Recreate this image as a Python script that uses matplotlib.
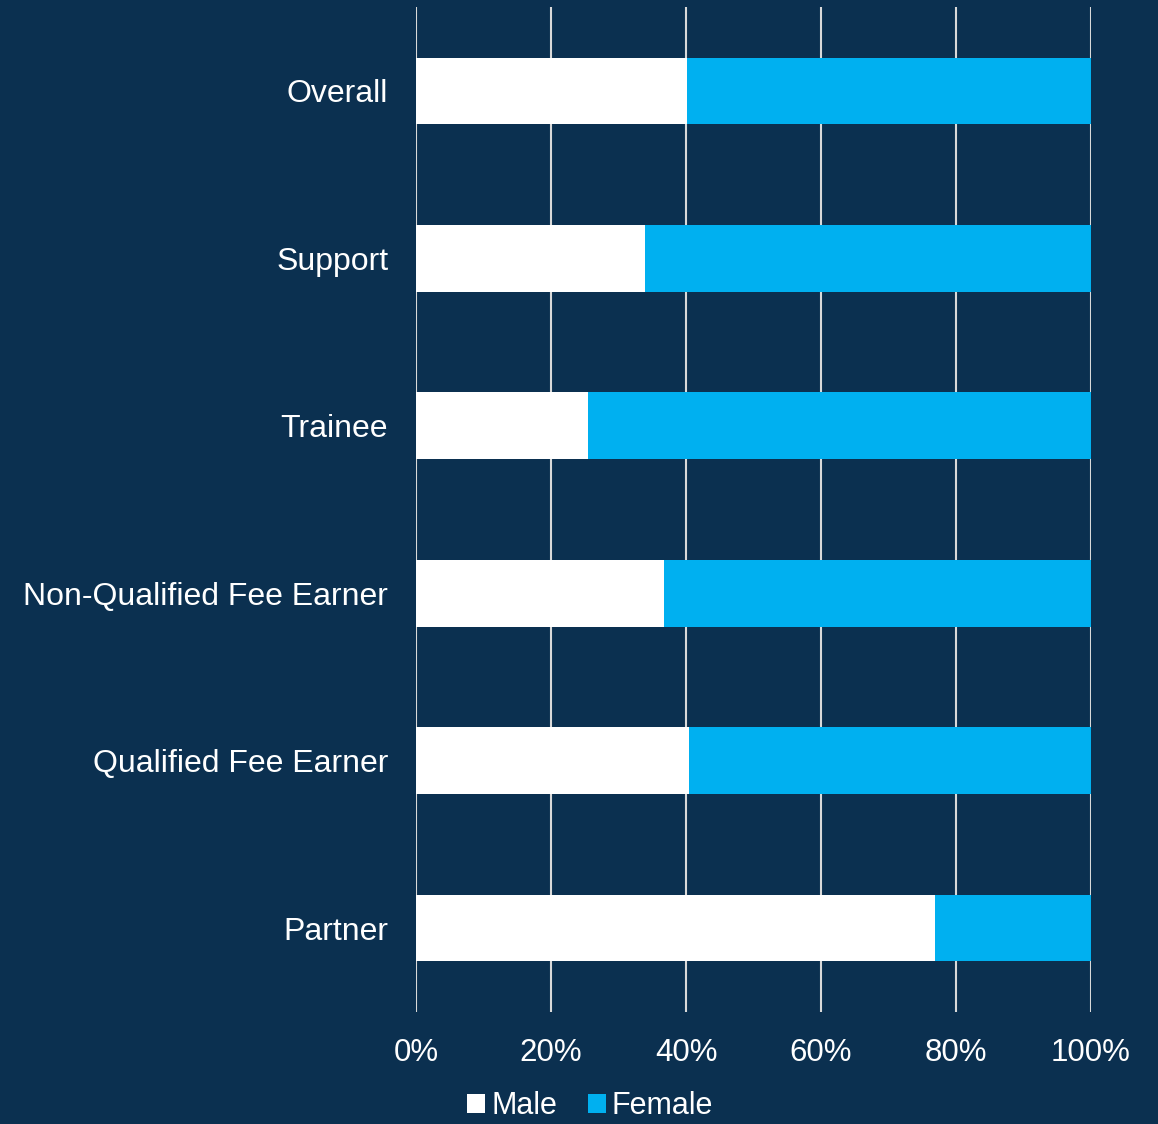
import matplotlib
import matplotlib.pyplot as plt
import numpy as np

matplotlib.use('Agg')

# Data
categories = ['Overall', 'Support', 'Trainee', 'Non-Qualified Fee Earner', 'Qualified Fee Earner', 'Partner']
male = [40.1, 33.9, 25.5, 36.7, 40.4, 76.9]
female = [100 - m for m in male]
ticks = [0, 20, 40, 60, 80, 100]
tick_labels = ['0%', '20%', '40%', '60%', '80%', '100%']

bg = '#0B3050'
blue = '#00B0F0'
grid = '#D9D9D9'

plt.rcParams['font.family'] = ['Liberation Sans', 'DejaVu Sans']

fig = plt.figure(figsize=(11.58, 11.24), dpi=100, facecolor=bg)
ax = fig.add_axes([416 / 1158, 1 - 1011.7 / 1124, 675 / 1158, 1004.4 / 1124])
ax.set_facecolor(bg)

y = np.arange(len(categories))
ax.barh(y, male, height=0.4, color='white', label='Male', zorder=3)
ax.barh(y, female, left=male, height=0.4, color=blue, label='Female', zorder=3)

ax.set_xlim(0, 100)
ax.set_ylim(len(categories) - 0.5, -0.5)
ax.set_xticks(ticks)
ax.set_xticklabels(tick_labels, fontsize=22.5)
ax.set_yticks(y)
ax.set_yticklabels(categories, fontsize=23)
ax.tick_params(axis='both', length=0, colors='white')
ax.tick_params(axis='x', pad=19)
ax.tick_params(axis='y', pad=20)
ax.grid(axis='x', color=grid, linewidth=1.5, zorder=1)
for s in ax.spines.values():
    s.set_visible(False)

fig.legend(loc='center', bbox_to_anchor=(590 / 1158, 1 - 1106 / 1124), ncol=2, frameon=False,
           fontsize=22, labelcolor='white', handlelength=0.6, handleheight=0.6, handletextpad=0.2,
           columnspacing=1.0)

fig.savefig('out.png', dpi=100, facecolor=bg)
